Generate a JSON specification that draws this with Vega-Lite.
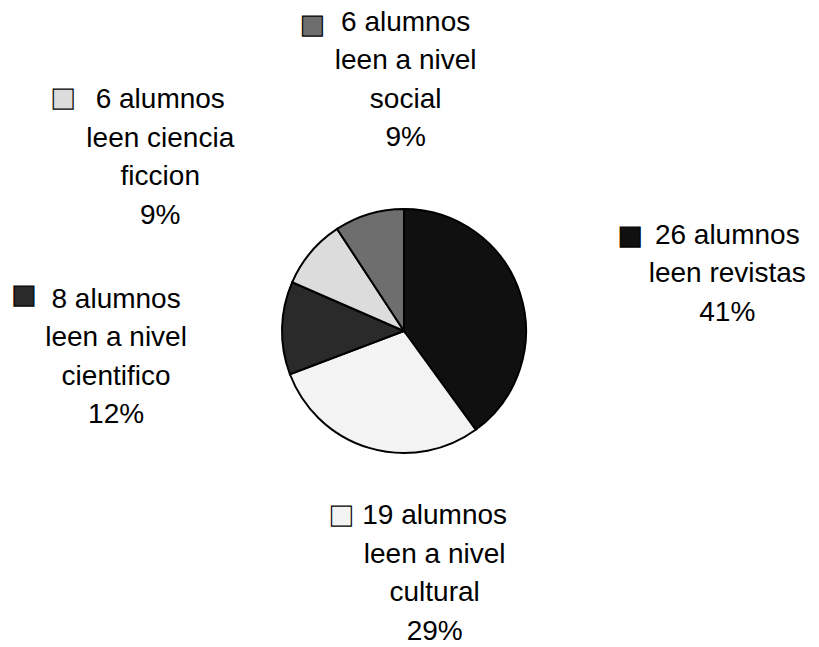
{
  "$schema": "https://vega.github.io/schema/vega-lite/v6.json",
  "width": 808,
  "height": 632,
  "autosize": {"type": "none"},
  "padding": {"left": 0, "top": 15, "right": 11, "bottom": 0},
  "background": "white",
  "config": {"view": {"stroke": null}},
  "data": {
    "values": [
      {"categoria": "revistas", "alumnos": 26, "orden": 1, "lineas": ["26 alumnos", "leen revistas", "41%"]},
      {"categoria": "cultural", "alumnos": 19, "orden": 2, "lineas": ["19 alumnos", "leen a nivel", "cultural", "29%"]},
      {"categoria": "cientifico", "alumnos": 8, "orden": 3, "lineas": ["8 alumnos", "leen a nivel", "cientifico", "12%"]},
      {"categoria": "ciencia ficcion", "alumnos": 6, "orden": 4, "lineas": ["6 alumnos", "leen ciencia", "ficcion", "9%"]},
      {"categoria": "social", "alumnos": 6, "orden": 5, "lineas": ["6 alumnos", "leen a nivel", "social", "9%"]}
    ]
  },
  "encoding": {
    "theta": {"field": "alumnos", "type": "quantitative", "stack": true},
    "order": {"field": "orden", "type": "quantitative"}
  },
  "layer": [
    {
      "mark": {"type": "arc", "outerRadius": 122, "stroke": "black", "strokeWidth": 2},
      "encoding": {
        "color": {
          "field": "categoria", "type": "nominal", "legend": null,
          "scale": {"domain": ["revistas", "cultural", "cientifico", "ciencia ficcion", "social"],
                    "range": ["#101010", "#f3f3f3", "#2a2a2a", "#dcdcdc", "#6e6e6e"]}
        }
      }
    },
    {
      "mark": {
        "type": "text", "radius": 260, "font": "Liberation Sans", "fontSize": 28, "lineHeight": 38.5,
        "align": "center", "baseline": "middle", "fill": "black",
        "dx": {"expr": "datum.categoria === 'revistas' ? 76 : datum.categoria === 'cultural' ? 105 : datum.categoria === 'cientifico' ? -28 : datum.categoria === 'ciencia ficcion' ? -45 : 76"},
        "dy": {"expr": "datum.categoria === 'revistas' ? -15 : datum.categoria === 'cultural' ? -64 : datum.categoria === 'cientifico' ? -25 : datum.categoria === 'ciencia ficcion' ? -63 : -59"}
      },
      "encoding": {"text": {"field": "lineas"}}
    },
    {
      "mark": {
        "type": "text", "radius": 260, "font": "DejaVu Sans", "fontSize": 26,
        "align": "center", "baseline": "middle", "stroke": "black", "strokeWidth": 1.2,
        "dx": {"expr": "datum.categoria === 'revistas' ? -21 : datum.categoria === 'cultural' ? 12 : datum.categoria === 'cientifico' ? -120 : datum.categoria === 'ciencia ficcion' ? -142 : -17"},
        "dy": {"expr": "datum.categoria === 'revistas' ? -15 : datum.categoria === 'cultural' ? -65 : datum.categoria === 'cientifico' ? -30 : datum.categoria === 'ciencia ficcion' ? -65 : -57"}
      },
      "encoding": {
        "text": {"value": "■"},
        "color": {"field": "categoria", "type": "nominal", "legend": null}
      }
    }
  ]
}
